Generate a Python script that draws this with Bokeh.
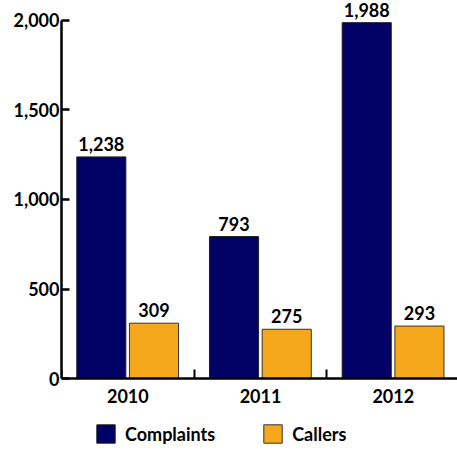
from bokeh.plotting import figure
from bokeh.models import (Range1d, FixedTicker, NumeralTickFormatter, Legend, LegendItem,
                          ColumnDataSource)
from bokeh.transform import dodge
from bokeh.embed import file_html
from bokeh.resources import INLINE
from bokeh.core.properties import value

years = ["2010", "2011", "2012"]
complaints = [1238, 793, 1988]
callers = [309, 275, 293]
y_ticks = [0, 500, 1000, 1500, 2000]

NAVY = "#000066"
ORANGE = "#F5A81C"
FONT = "Lato"

idx = [i + 0.5 for i in range(len(years))]
src = ColumnDataSource(dict(
    x=idx,
    complaints=complaints,
    callers=callers,
    complaints_lbl=[f"{v:,}" for v in complaints],
    callers_lbl=[f"{v:,}" for v in callers],
))

p = figure(frame_width=396, frame_height=451, output_backend="svg", toolbar_location=None,
           x_range=Range1d(0, 2.984), y_range=Range1d(-407.8, 2111.7),
           min_border_left=61, min_border_right=0, min_border_top=0, min_border_bottom=0)
p.outline_line_color = None
p.xgrid.grid_line_color = None
p.ygrid.grid_line_color = None

bw = 0.37
r1 = p.vbar(x=dodge("x", -0.2, range=p.x_range), top="complaints", width=bw, source=src,
            fill_color=NAVY, line_color="#222222", line_width=1)
r2 = p.vbar(x=dodge("x", 0.197, range=p.x_range), top="callers", width=bw, source=src,
            fill_color=ORANGE, line_color="#333333", line_width=1)

p.text(x=dodge("x", -0.2, range=p.x_range), y="complaints", text="complaints_lbl", source=src,
       text_align="center", text_baseline="alphabetic", y_offset=-13,
       text_font=value(FONT), text_font_style="bold", text_font_size="18px", text_color="black")
p.text(x=dodge("x", 0.197, range=p.x_range), y="callers", text="callers_lbl", source=src,
       text_align="center", text_baseline="alphabetic", y_offset=-13,
       text_font=value(FONT), text_font_style="bold", text_font_size="18px", text_color="black")

# x axis
xa = p.xaxis[0]
xa.fixed_location = 0
xa.ticker = FixedTicker(ticks=idx, minor_ticks=[i for i in range(len(years) + 1)])
xa.major_label_overrides = {t: y for t, y in zip(idx, years)}
xa.major_tick_line_color = None
xa.minor_tick_in = 9
xa.minor_tick_out = 0
xa.minor_tick_line_width = 2
xa.minor_tick_line_color = "black"
xa.axis_line_width = 2.5
xa.axis_line_color = "black"
xa.major_label_text_font = FONT
xa.major_label_text_font_style = "bold"
xa.major_label_text_font_size = "18px"
xa.major_label_text_color = "black"
xa.major_label_standoff = 4

# y axis
ya = p.yaxis[0]
ya.ticker = FixedTicker(ticks=y_ticks)
ya.formatter = NumeralTickFormatter(format="0,0")
ya.bounds = (0, 2000)
ya.major_tick_in = 8
ya.major_tick_out = 0
ya.major_tick_line_width = 2.5
ya.major_tick_line_color = "black"
ya.minor_tick_line_color = None
ya.axis_line_width = 2.5
ya.axis_line_color = "black"
ya.major_label_text_font = FONT
ya.major_label_text_font_style = "bold"
ya.major_label_text_font_size = "18px"
ya.major_label_text_color = "black"
ya.major_label_standoff = 2

legend = Legend(items=[LegendItem(label="Complaints", renderers=[r1]),
                       LegendItem(label="Callers", renderers=[r2])],
                orientation="horizontal", location=(33, 6),
                glyph_width=23, glyph_height=23, label_standoff=8, spacing=46,
                label_text_font=FONT, label_text_font_style="bold", label_text_font_size="18px",
                label_text_color="black", border_line_color=None, background_fill_alpha=0,
                padding=0, margin=0)
p.add_layout(legend)

open("out.html", "w").write(file_html(p, INLINE))
